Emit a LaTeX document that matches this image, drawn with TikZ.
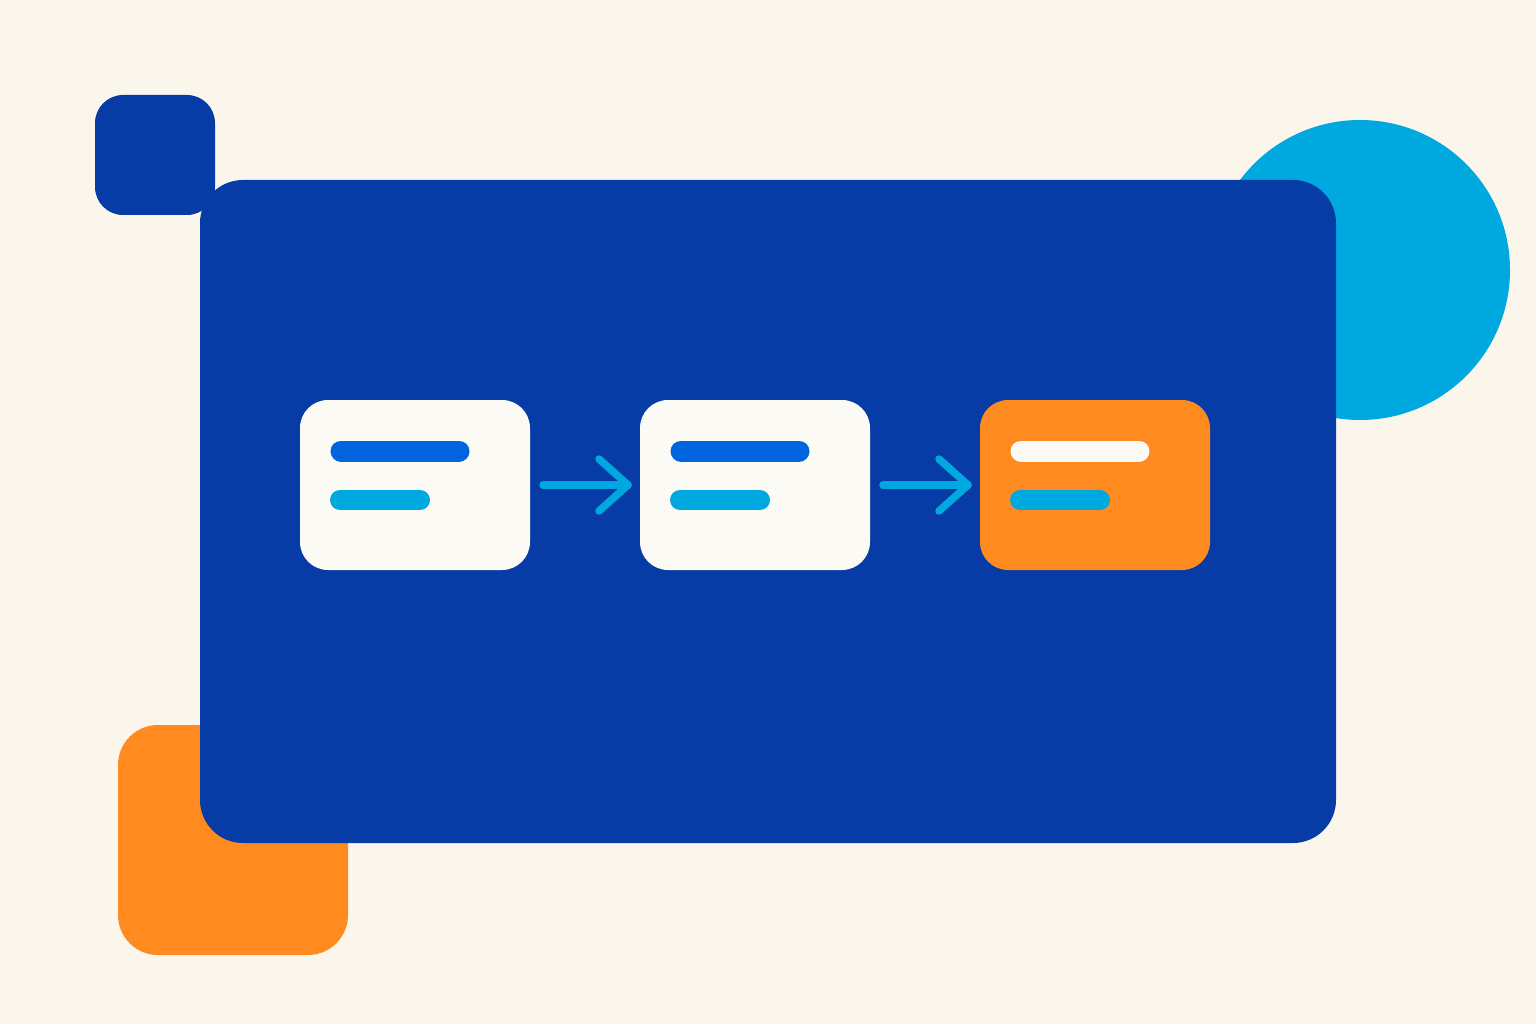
\documentclass[tikz,border=0pt]{standalone}
\begin{document}
\begin{tikzpicture}[x=1pt,y=-1pt,
  card/.style={rectangle, rounded corners=28pt, minimum width=230pt, minimum height=170pt, inner sep=0pt, outer sep=0pt, draw=none},
  bar/.style={line cap=round, line width=21pt},
  arr/.style={draw=lightblue, line width=7.5pt, line cap=round, line join=round}]
\definecolor{bgcol}{HTML}{FAF6EC}
\definecolor{navy}{HTML}{073CA6}
\definecolor{lightblue}{HTML}{00A8E0}
\definecolor{orangec}{HTML}{FF8A1F}
\definecolor{cardw}{HTML}{FCFAF5}
\definecolor{midblue}{HTML}{0064DC}
\fill[bgcol] (0,0) rectangle (1536,1024);
\useasboundingbox (0,0) rectangle (1536,1024);
% background decorations
\fill[lightblue] (1360,270) circle (150);
\fill[navy, rounded corners=28pt] (95,95) rectangle (215,215);
\fill[orangec, rounded corners=40pt] (118,725) rectangle (348,955);
% main panel
\fill[navy, rounded corners=43pt] (200,180) rectangle (1336,843);
% cards
\node[card, fill=cardw] (c1) at (415,485) {};
\node[card, fill=cardw] (c2) at (755,485) {};
\node[card, fill=orangec] (c3) at (1095,485) {};
% bars
\foreach \c/\ca/\cb in {c1/midblue/lightblue, c2/midblue/lightblue, c3/cardw/lightblue}{
  \draw[bar, draw=\ca] ([shift={(41,-34)}]\c.west) -- ([shift={(159,-34)}]\c.west);
  \draw[bar, draw=\cb, line width=20pt] ([shift={(40,15)}]\c.west) -- ([shift={(120,15)}]\c.west);
}
% arrows
\coordinate (a1s) at ([xshift=13]c1.east);
\coordinate (a1e) at ([xshift=-12]c2.west);
\coordinate (a2s) at ([xshift=13]c2.east);
\coordinate (a2e) at ([xshift=-12]c3.west);
\draw[arr] (a1s) -- (a1e);
\draw[arr] ([shift={(-29,-26)}]a1e) -- (a1e) -- ([shift={(-29,26)}]a1e);
\draw[arr] (a2s) -- (a2e);
\draw[arr] ([shift={(-29,-26)}]a2e) -- (a2e) -- ([shift={(-29,26)}]a2e);
\end{tikzpicture}
\end{document}
